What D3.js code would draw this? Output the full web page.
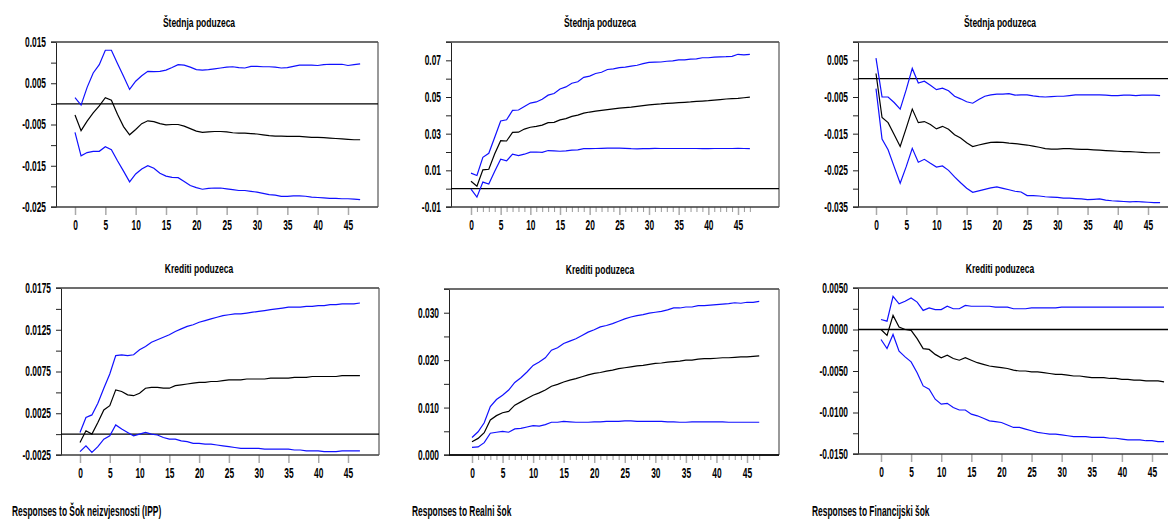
<!DOCTYPE html>
<html>
<head>
<meta charset="utf-8">
<script src="https://cdn.jsdelivr.net/npm/d3@7"></script>
<style>
  body { margin: 0; background: #fff; }
  text { font-family: "Liberation Sans", Arial, sans-serif; font-weight: bold; fill: #000; }
</style>
</head>
<body>
<div class="vis-irf"></div>
<script>
const horizon = d3.range(48);

const panelTitles = ["Štednja poduzeca", "Štednja poduzeca", "Štednja poduzeca",
                     "Krediti poduzeca", "Krediti poduzeca", "Krediti poduzeca"];
const shockLabels = ["Responses to Šok neizvjesnosti (IPP)", "Responses to Realni šok", "Responses to Financijski šok"];

// Štednja poduzeca <- Šok neizvjesnosti (IPP)
const stednjaIppUpper = [0.0015,-0.0003,0.004,0.0075,0.0095,0.013,0.013,0.0098,0.0067,0.0035,0.0055,0.0068,0.0079,0.0078,0.0079,0.0082,0.0088,0.0095,0.0094,0.0089,0.0083,0.0082,0.0083,0.0085,0.0087,0.0089,0.009,0.0088,0.0087,0.0091,0.0091,0.009,0.009,0.0089,0.0087,0.0088,0.0091,0.0094,0.0094,0.0094,0.0093,0.0095,0.0096,0.0096,0.0096,0.0093,0.0095,0.0097];
const stednjaIppResp = [-0.0027,-0.0065,-0.0042,-0.0022,-0.0005,0.0015,0.0009,-0.0025,-0.0055,-0.0075,-0.0062,-0.0048,-0.0041,-0.0043,-0.0048,-0.0051,-0.005,-0.005,-0.0054,-0.006,-0.0066,-0.0069,-0.0068,-0.0067,-0.0067,-0.0068,-0.007,-0.0071,-0.0071,-0.0072,-0.0073,-0.0075,-0.0077,-0.0078,-0.0078,-0.0079,-0.0079,-0.0079,-0.008,-0.0081,-0.0081,-0.0082,-0.0083,-0.0084,-0.0085,-0.0086,-0.0087,-0.0087];
const stednjaIppLower = [-0.0069,-0.0126,-0.0118,-0.0115,-0.0115,-0.0104,-0.0111,-0.0138,-0.0163,-0.0189,-0.017,-0.0158,-0.015,-0.0156,-0.0168,-0.0175,-0.0178,-0.0179,-0.0188,-0.0198,-0.0203,-0.0207,-0.0205,-0.0204,-0.0204,-0.0206,-0.0208,-0.021,-0.021,-0.0212,-0.0214,-0.0217,-0.022,-0.0221,-0.0224,-0.0224,-0.0223,-0.0223,-0.0224,-0.0226,-0.0227,-0.0228,-0.0229,-0.0229,-0.023,-0.023,-0.0231,-0.0232];

// Štednja poduzeca <- Realni šok
const stednjaRealUpper = [0.0085,0.0072,0.0171,0.0193,0.028,0.0369,0.0376,0.0427,0.0429,0.0448,0.0467,0.0473,0.0488,0.051,0.0519,0.0544,0.0555,0.0575,0.0583,0.0607,0.0614,0.0628,0.0635,0.065,0.0653,0.066,0.0663,0.0668,0.0673,0.0682,0.0689,0.069,0.0691,0.0695,0.0697,0.0702,0.0702,0.0707,0.0708,0.0714,0.0714,0.0718,0.0719,0.072,0.0722,0.0733,0.073,0.0732];
const stednjaRealResp = [0.004,0.0013,0.0103,0.0106,0.019,0.0262,0.026,0.0307,0.0308,0.0325,0.0335,0.034,0.0347,0.036,0.0362,0.0375,0.0382,0.0394,0.0401,0.0412,0.0418,0.0423,0.0427,0.0431,0.0435,0.0439,0.0442,0.0445,0.0449,0.0453,0.0457,0.046,0.0462,0.0465,0.0467,0.0469,0.0471,0.0473,0.0476,0.0478,0.048,0.0483,0.0486,0.0489,0.0491,0.0493,0.0496,0.0499];
const stednjaRealLower = [-0.0002,-0.0046,0.0036,0.0025,0.0095,0.0161,0.0152,0.0188,0.018,0.0188,0.0199,0.02,0.0198,0.0208,0.0206,0.0204,0.0206,0.021,0.0212,0.0218,0.0218,0.0219,0.022,0.0221,0.0221,0.0221,0.022,0.0218,0.0217,0.0218,0.0218,0.022,0.0219,0.0219,0.0219,0.0219,0.0219,0.0219,0.0219,0.0218,0.0218,0.0219,0.0219,0.0219,0.0219,0.022,0.0219,0.0218];

// Štednja poduzeca <- Financijski šok
const stednjaFinUpper = [0.0056,-0.005,-0.005,-0.0065,-0.0083,-0.003,0.0028,-0.0012,-0.0007,-0.0018,-0.003,-0.0026,-0.0033,-0.0048,-0.0055,-0.0063,-0.0067,-0.0057,-0.0048,-0.0044,-0.0042,-0.0042,-0.0041,-0.0045,-0.0044,-0.0044,-0.0047,-0.0049,-0.005,-0.0049,-0.0048,-0.0048,-0.0046,-0.0044,-0.0044,-0.0044,-0.0044,-0.0044,-0.0045,-0.0046,-0.0046,-0.0045,-0.0045,-0.0046,-0.0045,-0.0045,-0.0045,-0.0046];
const stednjaFinResp = [0.0014,-0.0106,-0.012,-0.0152,-0.0185,-0.0135,-0.0083,-0.012,-0.0117,-0.0125,-0.0137,-0.013,-0.0138,-0.0153,-0.0162,-0.0175,-0.0185,-0.0181,-0.0177,-0.0174,-0.0173,-0.0174,-0.0176,-0.0177,-0.0179,-0.0181,-0.0184,-0.0187,-0.0191,-0.0192,-0.0192,-0.0191,-0.0191,-0.0192,-0.0193,-0.0193,-0.0194,-0.0195,-0.0196,-0.0197,-0.0198,-0.0199,-0.0199,-0.02,-0.0201,-0.0202,-0.0202,-0.0202];
const stednjaFinLower = [-0.0027,-0.0165,-0.0194,-0.024,-0.0285,-0.024,-0.019,-0.0228,-0.022,-0.0231,-0.0241,-0.0238,-0.025,-0.0268,-0.0284,-0.0299,-0.031,-0.0306,-0.0302,-0.0298,-0.0295,-0.0299,-0.0303,-0.0307,-0.0309,-0.0319,-0.0319,-0.032,-0.0322,-0.0323,-0.0324,-0.0326,-0.0326,-0.0327,-0.0328,-0.033,-0.0329,-0.0328,-0.0331,-0.0333,-0.0334,-0.0335,-0.0336,-0.0335,-0.0336,-0.0337,-0.0338,-0.0338];

// Krediti poduzeca <- Šok neizvjesnosti (IPP)
const kreditiIppUpper = [0.0002,0.002,0.0023,0.0037,0.0055,0.0072,0.0094,0.0095,0.0094,0.0095,0.0101,0.0105,0.011,0.0113,0.0116,0.0119,0.0123,0.0126,0.0129,0.0131,0.0134,0.0136,0.0138,0.014,0.0142,0.0143,0.0144,0.0144,0.0145,0.0146,0.0147,0.0148,0.0149,0.015,0.0151,0.0152,0.0152,0.0152,0.0153,0.0153,0.0154,0.0154,0.0155,0.0155,0.0156,0.0156,0.0156,0.0157];
const kreditiIppResp = [-0.001,0.0004,0.0,0.0014,0.0029,0.0034,0.0053,0.0051,0.0047,0.0046,0.0049,0.0055,0.0056,0.0056,0.0055,0.0055,0.0058,0.0059,0.006,0.0061,0.0062,0.0062,0.0063,0.0063,0.0064,0.0065,0.0065,0.0065,0.0066,0.0066,0.0066,0.0066,0.0067,0.0067,0.0067,0.0067,0.0068,0.0068,0.0068,0.0069,0.0069,0.0069,0.0069,0.0069,0.007,0.007,0.007,0.007];
const kreditiIppLower = [-0.0021,-0.0014,-0.0022,-0.0015,-0.0006,-0.0002,0.0011,0.0006,0.0002,-0.0002,0.0,0.0002,0.0,-0.0001,-0.0004,-0.0006,-0.0006,-0.0008,-0.0009,-0.0011,-0.0011,-0.0012,-0.0012,-0.0013,-0.0014,-0.0015,-0.0016,-0.0017,-0.0017,-0.0017,-0.0017,-0.0018,-0.0018,-0.0018,-0.0018,-0.0018,-0.0019,-0.0019,-0.002,-0.002,-0.002,-0.0021,-0.0021,-0.0021,-0.002,-0.002,-0.002,-0.002];

// Krediti poduzeca <- Realni šok
const kreditiRealUpper = [0.0037,0.0049,0.0068,0.0102,0.0117,0.0126,0.0137,0.0153,0.0163,0.0175,0.0189,0.0196,0.0205,0.0221,0.0226,0.0235,0.024,0.0245,0.0252,0.0259,0.0264,0.027,0.0273,0.0277,0.0282,0.0287,0.0291,0.0294,0.0296,0.0299,0.0301,0.0303,0.0306,0.031,0.031,0.0312,0.0312,0.0315,0.0315,0.0316,0.0317,0.0318,0.0319,0.0321,0.032,0.0322,0.0322,0.0324];
const kreditiRealResp = [0.0028,0.0035,0.0047,0.0074,0.0083,0.0089,0.0092,0.0105,0.0112,0.0119,0.0126,0.0131,0.0137,0.0145,0.0149,0.0154,0.0158,0.0161,0.0165,0.0169,0.0172,0.0174,0.0177,0.0179,0.0182,0.0184,0.0186,0.0188,0.0189,0.0191,0.0193,0.0194,0.0196,0.0197,0.0198,0.02,0.02,0.0202,0.0203,0.0203,0.0204,0.0205,0.0205,0.0206,0.0207,0.0207,0.0208,0.0209];
const kreditiRealLower = [0.0016,0.0017,0.0026,0.0046,0.0048,0.005,0.0048,0.0055,0.0056,0.0059,0.0062,0.0061,0.0064,0.0069,0.0069,0.0071,0.007,0.0069,0.0069,0.0069,0.007,0.007,0.0071,0.0071,0.0071,0.0072,0.0072,0.0071,0.0071,0.0071,0.0071,0.0071,0.007,0.007,0.0069,0.0069,0.007,0.007,0.007,0.007,0.007,0.007,0.0069,0.0069,0.0069,0.0069,0.0069,0.0069];

// Krediti poduzeca <- Financijski šok
const kreditiFinUpper = [0.0012,0.001,0.004,0.0031,0.0034,0.0038,0.0033,0.0023,0.0026,0.0024,0.0024,0.0028,0.0025,0.0025,0.0029,0.0028,0.0028,0.0028,0.0028,0.0027,0.0027,0.0027,0.0025,0.0025,0.0025,0.0026,0.0026,0.0026,0.0026,0.0026,0.0027,0.0027,0.0027,0.0027,0.0027,0.0027,0.0027,0.0027,0.0027,0.0027,0.0027,0.0027,0.0027,0.0027,0.0027,0.0027,0.0027,0.0027];
const kreditiFinResp = [0.0,-0.0007,0.0017,0.0003,0.0,-0.0001,-0.0011,-0.0023,-0.0024,-0.003,-0.0034,-0.0031,-0.0035,-0.0037,-0.0034,-0.0037,-0.004,-0.0042,-0.0044,-0.0045,-0.0046,-0.0047,-0.0049,-0.005,-0.005,-0.0051,-0.0051,-0.0052,-0.0053,-0.0054,-0.0054,-0.0055,-0.0056,-0.0056,-0.0057,-0.0058,-0.0058,-0.0058,-0.0059,-0.0059,-0.006,-0.006,-0.0061,-0.0061,-0.0062,-0.0062,-0.0062,-0.0063];
const kreditiFinLower = [-0.0012,-0.0023,-0.0006,-0.0026,-0.0033,-0.0039,-0.0052,-0.0068,-0.0072,-0.0084,-0.009,-0.0089,-0.0094,-0.0097,-0.0097,-0.0102,-0.0104,-0.0107,-0.011,-0.0111,-0.0112,-0.0115,-0.0118,-0.0118,-0.012,-0.0122,-0.0124,-0.0125,-0.0126,-0.0126,-0.0127,-0.0128,-0.0129,-0.0129,-0.0129,-0.013,-0.013,-0.013,-0.0131,-0.0131,-0.0132,-0.0133,-0.0133,-0.0133,-0.0134,-0.0134,-0.0135,-0.0135];

// y axes: domain, tick marks, labelled ticks
const yDomains = [[-0.025, 0.015], [-0.01, 0.08], [-0.035, 0.01], [-0.0025, 0.0175], [0, 0.035], [-0.015, 0.005]];
const yTicks = [
    [-0.025, -0.02, -0.015, -0.01, -0.005, 0, 0.005, 0.01, 0.015],
    [-0.01, 0, 0.01, 0.02, 0.03, 0.04, 0.05, 0.06, 0.07, 0.08],
    [-0.035, -0.03, -0.025, -0.02, -0.015, -0.01, -0.005, 0, 0.005, 0.01],
    [-0.0025, 0, 0.0025, 0.005, 0.0075, 0.01, 0.0125, 0.015, 0.0175],
    [0, 0.005, 0.01, 0.015, 0.02, 0.025, 0.03, 0.035],
    [-0.015, -0.0125, -0.01, -0.0075, -0.005, -0.0025, 0, 0.0025, 0.005]
];
const yLabels = [
    ["-0.025", "-0.015", "-0.005", "0.005", "0.015"],
    ["-0.01", "0.01", "0.03", "0.05", "0.07"],
    ["-0.035", "-0.025", "-0.015", "-0.005", "0.005"],
    ["-0.0025", "0.0025", "0.0075", "0.0125", "0.0175"],
    ["0.000", "0.010", "0.020", "0.030"],
    ["-0.0150", "-0.0100", "-0.0050", "0.0000", "0.0050"]
];
const xMajor = [0, 5, 10, 15, 20, 25, 30, 35, 40, 45];

const seriesByPanel = [
    [stednjaIppUpper, stednjaIppResp, stednjaIppLower],
    [stednjaRealUpper, stednjaRealResp, stednjaRealLower],
    [stednjaFinUpper, stednjaFinResp, stednjaFinLower],
    [kreditiIppUpper, kreditiIppResp, kreditiIppLower],
    [kreditiRealUpper, kreditiRealResp, kreditiRealLower],
    [kreditiFinUpper, kreditiFinResp, kreditiFinLower]
];

// pixel boxes of the six plots
const boxes = [
    { left: 56, right: 378, top: 42, bottom: 207, x0: 75, x45: 348, titleX: 199, minor: false },
    { left: 451, right: 779, top: 42, bottom: 207, x0: 471, x45: 738, titleX: 600, minor: true },
    { left: 858, right: 1172, top: 42, bottom: 207, x0: 876, x45: 1148, titleX: 1000, minor: false },
    { left: 61, right: 379, top: 288, bottom: 455, x0: 80, x45: 348, titleX: 199, minor: false },
    { left: 449, right: 779, top: 289, bottom: 455, x0: 472, x45: 747, titleX: 600, minor: true },
    { left: 858, right: 1172, top: 288, bottom: 454, x0: 881, x45: 1152, titleX: 1000, minor: false }
];
const shockX = [12, 412, 812];

// the original uses a very condensed bold face: squeeze text horizontally
const squeeze = (k) => (sel) => sel.each(function () {
    const t = d3.select(this);
    t.attr('x', (+t.attr('x') || 0) / k)
        .attr('transform', 'scale(' + k + ',1)');
});

const svg = d3.select('.vis-irf').append('svg')
    .attr('width', 1168)
    .attr('height', 522);

boxes.forEach((b, i) => {
    const x = d3.scaleLinear().domain([0, 45]).range([b.x0, b.x45]);
    const y = d3.scaleLinear().domain(yDomains[i]).range([b.bottom, b.top]);
    const labelled = yLabels[i];
    const g = svg.append('g');

    // title
    g.append('text')
        .attr('x', b.titleX)
        .attr('y', b.top - 15)
        .attr('text-anchor', 'middle')
        .style('font-size', '13.5px')
        .text(panelTitles[i])
        .call(squeeze(0.63));

    // x ticks (minor ones only in the middle column)
    if (b.minor) {
        g.append('g')
            .attr('transform', 'translate(0,' + b.bottom + ')')
            .call(d3.axisBottom(x).tickValues(horizon.filter(h => h % 5 !== 0)).tickSize(5).tickFormat(''))
            .call(a => a.select('.domain').remove())
            .call(a => a.selectAll('line').attr('stroke', '#999').attr('stroke-width', 1));
    }
    g.append('g')
        .attr('transform', 'translate(0,' + b.bottom + ')')
        .call(d3.axisBottom(x).tickValues(xMajor).tickSize(8).tickPadding(5).tickFormat(d3.format('d')))
        .call(a => a.select('.domain').remove())
        .call(a => a.selectAll('line').attr('stroke', '#aaa').attr('stroke-width', 1.5))
        .call(a => a.selectAll('text').style('font-size', '14px').style('font-family', null).call(squeeze(0.6)));

    // y axis
    g.append('g')
        .attr('transform', 'translate(' + b.left + ',0)')
        .call(d3.axisLeft(y).tickValues(yTicks[i]).tickSize(5).tickSizeOuter(0).tickPadding(5)
            .tickFormat(v => {
                const hit = labelled.find(s => Math.abs(+s - v) < 1e-9);
                return hit === undefined ? '' : hit;
            }))
        .call(a => a.select('.domain').attr('stroke', '#222'))
        .call(a => a.selectAll('line').attr('stroke', '#222'))
        .call(a => a.selectAll('text').style('font-size', '14px').style('font-family', null).call(squeeze(0.6)));

    // frame
    g.append('line')
        .attr('x1', b.left - 5).attr('x2', b.right)
        .attr('y1', b.top).attr('y2', b.top)
        .attr('stroke', '#3c3c3c').attr('stroke-width', 1.6);
    g.append('line')
        .attr('x1', b.left - 5).attr('x2', b.right)
        .attr('y1', b.bottom).attr('y2', b.bottom)
        .attr('stroke', '#3c3c3c').attr('stroke-width', 1.6);
    g.append('line')
        .attr('x1', b.right).attr('x2', b.right)
        .attr('y1', b.top).attr('y2', b.bottom)
        .attr('stroke', '#555').attr('stroke-width', 1.2);

    // zero line
    g.append('line')
        .attr('x1', b.left).attr('x2', b.right)
        .attr('y1', y(0)).attr('y2', y(0))
        .attr('stroke', '#000').attr('stroke-width', 1.3);

    const line = d3.line()
        .x((d, k) => x(horizon[k]))
        .y(d => y(d));

    const [upper, resp, lower] = seriesByPanel[i];
    g.append('path').datum(upper)
        .attr('d', line).attr('fill', 'none')
        .attr('stroke', '#1010ff').attr('stroke-width', 1.2);
    g.append('path').datum(lower)
        .attr('d', line).attr('fill', 'none')
        .attr('stroke', '#1010ff').attr('stroke-width', 1.2);
    g.append('path').datum(resp)
        .attr('d', line).attr('fill', 'none')
        .attr('stroke', '#000').attr('stroke-width', 1.2);
});

// shock labels under the bottom row
shockLabels.forEach((s, j) => {
    svg.append('text')
        .attr('x', shockX[j])
        .attr('y', 516)
        .style('font-size', '14px')
        .text(s)
        .call(squeeze(0.6));
});
</script>
</body>
</html>
